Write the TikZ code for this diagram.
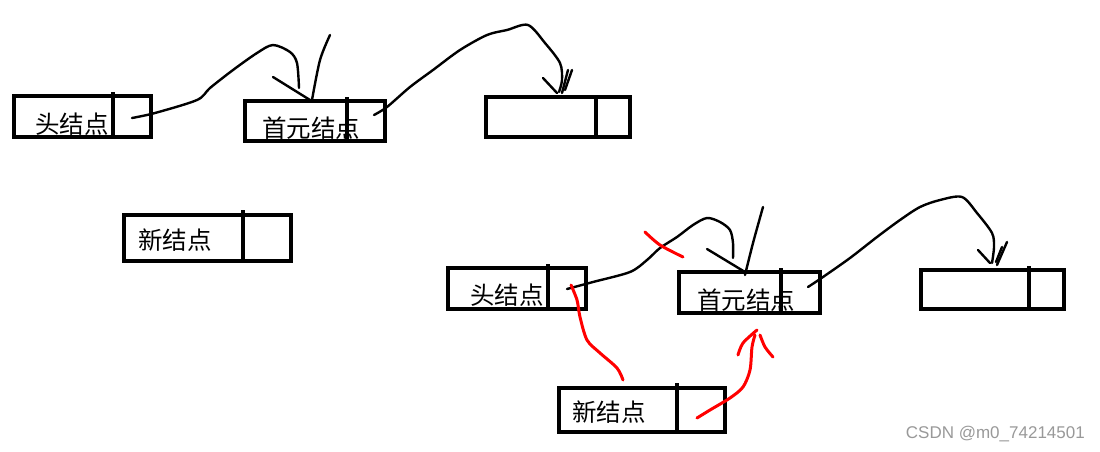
\documentclass[tikz,border=0pt]{standalone}
\usepackage{fontspec}
\newfontfamily\cjk{Noto Sans CJK SC}
\setmainfont{Liberation Sans}
\begin{document}
\begin{tikzpicture}[x=1pt,y=-1pt,
  box/.style={draw=black,line width=4pt,rectangle,inner sep=0pt,outer sep=0pt},
  lbl/.style={font=\cjk\fontsize{24.5}{24.5}\selectfont,inner sep=0pt},
  ink/.style={line width=2.4pt,line cap=round,line join=round},
  redink/.style={draw=red,line width=3pt,line cap=round,line join=round},
  divider/.style={line width=3.5pt}]
\useasboundingbox (0,0) rectangle (1100,452);
\fill[white] (0,0) rectangle (1100,452);
% top row
\node[box,minimum width=137pt,minimum height=41pt] (A) at (82.5,116.5) {};
\draw[divider] (113,92) -- (113,137);
\node[lbl] (At) at (72,124) {头结点};
\node[box,minimum width=140pt,minimum height=40pt] (B) at (315,121) {};
\draw[divider] (347,97) -- (347,141);
\node[lbl] (Bt) at (311,128) {首元结点};
\node[box,minimum width=144pt,minimum height=40pt] (C) at (558,117) {};
\draw[divider] (596,95) -- (596,137);
% new node left
\node[box,minimum width=167pt,minimum height=46pt] (N1) at (207.5,238) {};
\draw[divider] (243,210) -- (243,261);
\node[lbl] (N1t) at (175,240) {新结点};
% bottom row
\node[box,minimum width=138pt,minimum height=41pt] (A2) at (517,288.5) {};
\draw[divider] (548,264) -- (548,309);
\node[lbl] (A2t) at (507,295) {头结点};
\node[box,minimum width=141pt,minimum height=41pt] (B2) at (749.5,292.5) {};
\draw[divider] (781,268) -- (781,313);
\node[lbl] (B2t) at (746,300) {首元结点};
\node[box,minimum width=143pt,minimum height=39pt] (C2) at (992.5,289.5) {};
\draw[divider] (1029,266) -- (1029,309);
\node[box,minimum width=166pt,minimum height=44pt] (N2) at (642,410) {};
\draw[divider] (677,383) -- (677,432);
\node[lbl] (N2t) at (609,412) {新结点};
% top arrows
\draw[ink] plot[smooth,tension=0.5] coordinates {(132,118) (155,113) (197,100) (210,88) (233,70) (257,53) (273,45) (290,52) (297,63) (299,88)};
\draw[ink] (273,77) -- (310,100);
\draw[ink] plot[smooth,tension=0.5] coordinates {(330,35) (320,60) (312,100)};
\draw[ink] plot[smooth,tension=0.5] coordinates {(374,115) (387,107) (410,87) (433,70) (460,50) (487,35) (507,30) (528,25) (545,43) (560,63) (562,80) (559,92)};
\draw[ink] (543,78) -- (557,93);
\draw[ink] (568,70) -- (562,93);
\draw[ink] (572,70) -- (565,90);
% bottom black arrows
\draw[ink] plot[smooth,tension=0.5] coordinates {(567,289) (593,282) (630,272) (647,260) (660,248) (677,237) (693,225) (707,218) (720,222) (730,230) (733,243) (733,258)};
\draw[ink] (707,249) -- (745,272);
\draw[ink] plot[smooth,tension=0.5] coordinates {(763,207) (753,243) (745,275)};
\draw[ink] plot[smooth,tension=0.5] coordinates {(808,287) (823,277) (850,258) (877,237) (900,220) (920,207) (940,200) (962,197) (977,213) (992,233) (994,247) (992,263)};
\draw[ink] (978,250) -- (990,263);
\draw[ink] (1007,242) -- (997,265);
\draw[ink] (1002,247) -- (996,262);
% red marks
\draw[redink] plot[smooth,tension=0.5] coordinates {(645,232) (660,245) (683,257)};
\draw[redink] plot[smooth,tension=0.5] coordinates {(571,285) (577,300) (580,317) (587,340) (600,353) (617,368) (623,380)};
\draw[redink] plot[smooth,tension=0.5] coordinates {(697,418) (710,410) (730,398) (743,387) (750,370) (752,347) (755,335)};
\draw[redink] plot[smooth,tension=0.5] coordinates {(738,355) (743,343) (757,330)};
\draw[redink] plot[smooth,tension=0.5] coordinates {(760,335) (765,347) (773,357)};
% watermark
\node[font=\fontsize{17}{17}\selectfont,text=black!40,anchor=east,inner sep=0pt] (wm) at (1085,434) {CSDN @m0\_74214501};
\end{tikzpicture}
\end{document}
